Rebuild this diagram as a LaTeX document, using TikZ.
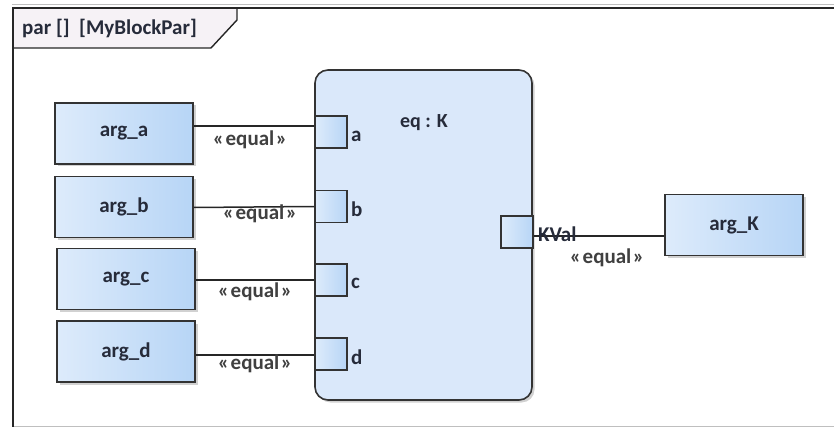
\documentclass[tikz,border=0pt]{standalone}
\usepackage{fontspec}
\setmainfont{Carlito}
\usetikzlibrary{shadows}

\definecolor{blockl}{HTML}{DDEBFB}
\definecolor{blockr}{HTML}{B7D5F6}
\definecolor{eqfill}{HTML}{DAE8FA}
\definecolor{tabfill}{HTML}{F6F2F6}
\definecolor{txt}{HTML}{262B3A}

\begin{document}
\begin{tikzpicture}[x=1pt,y=-1pt,
			every node/.style={
				text=txt,
				font=\fontsize{21}{23}\selectfont\bfseries,
			},
			block/.style={
				rectangle,
				draw=black!80,
				line width=1.6pt,
				minimum width=138pt,
				minimum height=61pt,
				left color=blockl,
				right color=blockr,
				drop shadow={shadow xshift=2.5pt,shadow yshift=-2.5pt,fill=black!30,opacity=.6},
			},
			port/.style={
				rectangle,
				draw=black!80,
				line width=1.6pt,
				minimum size=32pt,
				inner sep=0pt,
				left color=blockl,
				right color=blockr,
			},
			stereo/.style={text=black!75,inner sep=0pt},
			plabel/.style={inner sep=0pt,anchor=west},
			every edge/.style={
				draw,
				line width=1.5pt,
				black!85,
			}]
		\useasboundingbox (0,0) rectangle (834,427);
		% diagram frame and its name tab
		\draw[black!25,line width=1pt] (12,5) -- (834,5);
		\draw[black!25,line width=1pt] (12,426) -- (834,426);
		\draw[fill=tabfill,draw=black!85,line width=1.4pt] (13,8) -- (237,8) -- (237,20) -- (211,48) -- (13,48) -- cycle;
		\draw[black!85,line width=1.8pt] (13,427) -- (13,8) -- (834,8);
		\node[anchor=west,inner sep=0pt] (title) at (22,28) {par []\ \ [MyBlockPar]};

		% constraint property
		\node(eq) at (423.5,235) [rectangle,rounded corners=13pt,draw=black!80,line width=1.6pt,fill=eqfill,
			minimum width=217pt,minimum height=330pt,
			drop shadow={shadow xshift=2.5pt,shadow yshift=-2.5pt,fill=black!30,opacity=.6}] {};
		\node[font=\fontsize{20}{22}\selectfont\bfseries] (eqname) at (424,123) {eq : K};

		% parameter ports
		\node[port](pa) at (331,132)   {};
		\node[port](pb) at (331,206.5) {};
		\node[port](pc) at (331,280)   {};
		\node[port](pd) at (331,354)   {};
		\node[port](pk) at (517,232)   {};
		\node[plabel] (la) at (351,136) {a};
		\node[plabel] (lb) at (351,209) {b};
		\node[plabel] (lc) at (351,283) {c};
		\node[plabel] (ld) at (351,357) {d};

		% bound values
		\node[block](arga) at (124,133.5) {arg\_a};
		\node[block](argb) at (124,207)   {arg\_b};
		\node[block](argc) at (126,279)   {arg\_c};
		\node[block](argd) at (126,351.5) {arg\_d};
		\node[block](argk) at (734,225)   {arg\_K};

		% binding connectors
		\path ([yshift=7.5pt]arga.east) edge ([yshift=6pt]pa.west);
		\path ([yshift=-.5pt]argb.east) edge ([yshift=0pt]pb.west);
		\path ([yshift=-1pt]argc.east) edge (pc.west);
		\path ([yshift=-3.5pt]argd.east) edge ([yshift=-1pt]pd.west);
		\path ([yshift=-4pt]pk.east) edge ([yshift=-11pt]argk.west);
		\node[plabel] (lk) at (538,234) {KVal};

		\node[stereo] (eqa) at (250,140) {«\kern1.5pt equal\kern1.5pt»};
		\node[stereo] (eqb) at (260,214) {«\kern1.5pt equal\kern1.5pt»};
		\node[stereo] (eqc) at (255,292) {«\kern1.5pt equal\kern1.5pt»};
		\node[stereo] (eqd) at (255,364) {«\kern1.5pt equal\kern1.5pt»};
		\node[stereo] (eqk) at (607,258) {«\kern1.5pt equal\kern1.5pt»};
	\end{tikzpicture}
\end{document}
